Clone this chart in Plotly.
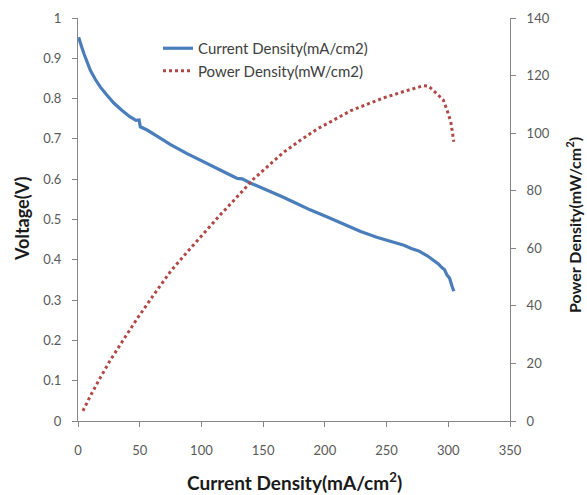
import plotly.graph_objects as go

# Voltage (blue) series: current density (mA/cm2) and voltage (V)
current = [0.5, 1.5, 3, 5, 7.5, 10, 14, 18, 23, 29, 36, 42, 47, 49.5, 50.5, 56, 65, 75, 88,
           102, 115, 125, 129, 133, 140, 148, 156, 165, 175, 188, 202, 209, 215, 229, 242,
           256, 264, 270, 276, 283, 288, 292, 295, 297, 299, 301, 303, 304.5]
voltage = [0.952, 0.940, 0.928, 0.910, 0.889, 0.870, 0.848, 0.829, 0.810, 0.789, 0.770, 0.755,
           0.746, 0.747, 0.730, 0.722, 0.705, 0.686, 0.664, 0.642, 0.623, 0.608, 0.602, 0.601,
           0.590, 0.580, 0.569, 0.557, 0.543, 0.524, 0.506, 0.497, 0.490, 0.470, 0.456, 0.444,
           0.436, 0.428, 0.422, 0.410, 0.400, 0.390, 0.380, 0.375, 0.362, 0.355, 0.335, 0.322]

# Power (red dotted) series: current density (mA/cm2) and power density (mW/cm2)
power_current = [4, 10, 18, 26, 36, 48, 60, 75, 88, 102, 115, 126, 135, 142, 155, 167, 180,
                 194, 207, 221, 234, 248, 262, 271, 276, 280, 284, 288, 292, 296, 299, 302, 304.5]
power = [3.5, 8.7, 15.0, 21.0, 27.7, 35.6, 43.0, 52.0, 58.5, 65.3, 71.5, 76.5, 80.6, 84.0,
         89.0, 93.5, 97.5, 101.5, 104.5, 107.8, 110.0, 112.3, 114.2, 115.2, 116.0, 116.5,
         116.3, 114.8, 113.2, 111.5, 108.0, 104.0, 97.0]

x_ticks = [0, 50, 100, 150, 200, 250, 300, 350]
y_ticks = [0, 0.1, 0.2, 0.3, 0.4, 0.5, 0.6, 0.7, 0.8, 0.9, 1]
y_tick_labels = ["0", "0.1", "0.2", "0.3", "0.4", "0.5", "0.6", "0.7", "0.8", "0.9", "1"]
y2_ticks = [0, 20, 40, 60, 80, 100, 120, 140]

FONT = "Lato"
AXIS_COL = "#868686"
TICK_COL = "#595959"
TITLE_COL = "#1a1a1a"

L, R, T, B = 78, 77, 18, 74
PW, PH = 587 - L - R, 495 - T - B


def px_x(px):
    return (px - L) / PW


def px_y(py):
    return (495 - B - py) / PH


fig = go.Figure()
fig.add_trace(go.Scatter(
    x=current, y=voltage, mode="lines", name="Current Density(mA/cm2)",
    line=dict(color="#4A7EBB", width=3.2), legendgroup="a", yaxis="y"))
fig.add_trace(go.Scatter(
    x=power_current, y=power, mode="lines", name="Power Density(mW/cm2)",
    line=dict(color="#B04845", width=3, dash="3px,3px"), legendgroup="b", yaxis="y2"))

fig.update_layout(
    width=587, height=495,
    margin=dict(l=L, r=R, t=T, b=B, autoexpand=False),
    paper_bgcolor="white", plot_bgcolor="white",
    font=dict(family=FONT, size=13, color=TICK_COL),
    showlegend=True,
    legend=dict(x=px_x(158), y=px_y(32), xanchor="left", yanchor="top",
                bgcolor="rgba(0,0,0,0)", traceorder="grouped", tracegroupgap=0,
                font=dict(family=FONT, size=15, color="#404040")),
    xaxis=dict(range=[0, 350], tickvals=x_ticks, showgrid=False, zeroline=False,
               showline=True, linecolor=AXIS_COL, linewidth=1,
               ticks="outside", ticklen=5, tickcolor=AXIS_COL,
               ticklabelstandoff=12, tickfont=dict(size=13, color=TICK_COL)),
    yaxis=dict(range=[0, 1], tickvals=y_ticks, ticktext=y_tick_labels, showgrid=False,
               zeroline=False, showline=True, linecolor=AXIS_COL, linewidth=1,
               ticks="outside", ticklen=5, tickcolor=AXIS_COL,
               ticklabelstandoff=8, tickfont=dict(size=13, color=TICK_COL)),
    yaxis2=dict(range=[0, 140], tickvals=y2_ticks, overlaying="y", side="right",
                showgrid=False, zeroline=False, showline=True, linecolor=AXIS_COL,
                linewidth=1, ticks="outside", ticklen=5, tickcolor=AXIS_COL,
                ticklabelstandoff=8, tickfont=dict(size=13, color=TICK_COL)),
    annotations=[
        dict(text="<b>Current Density(mA/cm<sup>2</sup>)</b>", xref="paper", yref="paper",
             x=px_x(294), y=px_y(481), xanchor="center", yanchor="middle",
             showarrow=False, font=dict(family=FONT, size=19, color=TITLE_COL)),
        dict(text="<b>Voltage(V)</b>", xref="paper", yref="paper",
             x=px_x(22), y=px_y(219), xanchor="center", yanchor="middle",
             textangle=-90, showarrow=False, font=dict(family=FONT, size=18, color=TITLE_COL)),
        dict(text="<b>Power Density(mW/cm<sup>2</sup>)</b>", xref="paper", yref="paper",
             x=px_x(573), y=px_y(225), xanchor="center", yanchor="middle",
             textangle=-90, showarrow=False, font=dict(family=FONT, size=16, color=TITLE_COL)),
    ],
)

fig.write_html("out.html", config={"displayModeBar": False},
               post_script="document.body.style.margin='0';")
